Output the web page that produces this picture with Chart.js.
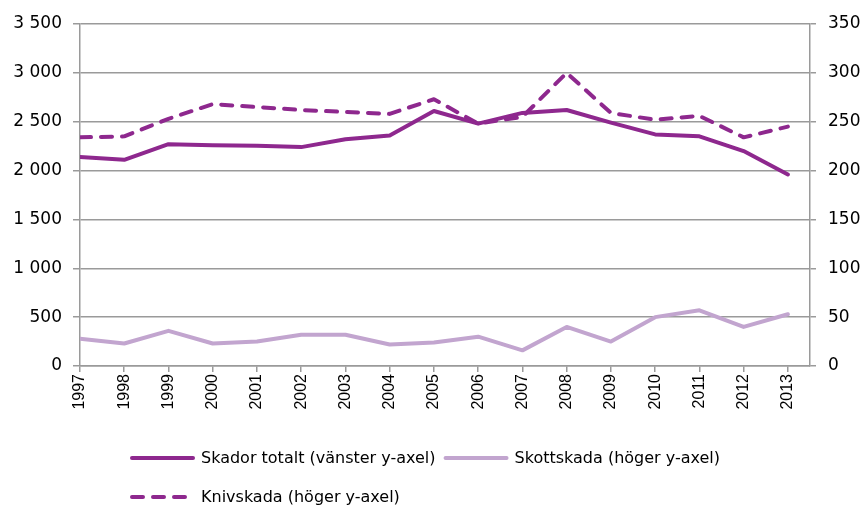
<!DOCTYPE html>
<html>
<head>
<meta charset="utf-8">
<script src="https://cdn.jsdelivr.net/npm/chart.js@4/dist/chart.umd.min.js"></script>
<style>
  html, body { margin: 0; padding: 0; background: #fff; }
  #wrap { width: 863px; height: 505px; position: relative; }
</style>
</head>
<body>
<div id="wrap"><canvas id="c" width="863" height="505"></canvas></div>
<script>
const years = [1997, 1998, 1999, 2000, 2001, 2002, 2003, 2004, 2005, 2006, 2007, 2008, 2009, 2010, 2011, 2012, 2013];
const skadorTotalt = [2140, 2110, 2270, 2260, 2255, 2240, 2320, 2360, 2610, 2480, 2590, 2620, 2490, 2370, 2350, 2200, 1960];
const skottskada = [28, 23, 36, 23, 25, 32, 32, 22, 24, 30, 16, 40, 25, 50, 57, 40, 53];
const knivskada = [234, 235, 253, 268, 265, 262, 260, 258, 273, 248, 255, 300, 259, 252, 256, 234, 245];
const leftTicks = [0, 500, 1000, 1500, 2000, 2500, 3000, 3500];
const rightTicks = [0, 50, 100, 150, 200, 250, 300, 350];
const seriesNames = ['Skador totalt (vänster y-axel)', 'Skottskada (höger y-axel)', 'Knivskada (höger y-axel)'];

const DARK = '#8E288E';
const LIGHT = '#C2A5CF';
const GRID = '#9A9A9A';

const toPts = arr => arr.map((v, i) => ({ x: years[i], y: v }));
const fmtSpace = v => String(v).replace(/\B(?=(\d{3})+(?!\d))/g, ' ');

const legendPlugin = {
  id: 'customLegend',
  afterDraw(chart) {
    const ctx = chart.ctx;
    const ds = chart.data.datasets;
    const rows = [[0, 1], [2]];
    const rowY = [458, 497];
    const startX = 130, lineLen = 65, gapLT = 6, gapTL = 8;
    ctx.save();
    ctx.font = '16px "DejaVu Sans"';
    ctx.textBaseline = 'middle';
    rows.forEach((row, r) => {
      let x = startX;
      const y = rowY[r];
      row.forEach(i => {
        const d = ds[i];
        ctx.beginPath();
        ctx.strokeStyle = d.borderColor;
        ctx.lineWidth = d.borderWidth;
        ctx.lineCap = 'round';
        ctx.setLineDash(d.borderDash || []);
        ctx.moveTo(x + 2, y);
        ctx.lineTo(x + lineLen - 2, y);
        ctx.stroke();
        ctx.setLineDash([]);
        x += lineLen + gapLT;
        ctx.fillStyle = '#000';
        ctx.fillText(d.label, x, y + 1);
        x += ctx.measureText(d.label).width + gapTL;
      });
    });
    ctx.restore();
  }
};

new Chart(document.getElementById('c'), {
  type: 'line',
  data: {
    datasets: [
      { label: seriesNames[0], data: toPts(skadorTotalt), yAxisID: 'y', borderColor: DARK, backgroundColor: DARK,
        borderWidth: 4, pointRadius: 0, tension: 0, borderJoinStyle: 'round', borderCapStyle: 'round' },
      { label: seriesNames[1], data: toPts(skottskada), yAxisID: 'y2', borderColor: LIGHT, backgroundColor: LIGHT,
        borderWidth: 4, pointRadius: 0, tension: 0, borderJoinStyle: 'round', borderCapStyle: 'round' },
      { label: seriesNames[2], data: toPts(knivskada), yAxisID: 'y2', borderColor: DARK, backgroundColor: DARK,
        borderWidth: 4, borderDash: [11, 10], pointRadius: 0, tension: 0, borderJoinStyle: 'round', borderCapStyle: 'round' }
    ]
  },
  options: {
    responsive: false,
    animation: false,
    events: [],
    layout: { padding: { top: 24, bottom: 0, left: 0, right: 0 } },
    plugins: { legend: { display: false }, tooltip: { enabled: false } },
    scales: {
      x: {
        type: 'linear',
        min: years[0],
        max: years[years.length - 1] + 0.5,
        afterBuildTicks: s => { s.ticks = years.map(v => ({ value: v })); },
        afterFit: s => { s.height = 139; },
        ticks: {
          autoSkip: false, minRotation: 90, maxRotation: 90, padding: 2,
          color: '#000', font: { family: 'Liberation Sans', size: 16 },
          callback: v => String(v)
        },
        grid: { drawOnChartArea: false, drawTicks: true, tickLength: 6, color: GRID, lineWidth: 1.5 },
        border: { color: GRID, width: 1.5 }
      },
      y: {
        position: 'left',
        min: 0, max: 3500,
        afterBuildTicks: s => { s.ticks = leftTicks.map(v => ({ value: v })); },
        afterFit: s => { s.width = 80; },
        ticks: { padding: 11, color: '#000', font: { family: 'DejaVu Sans', size: 17 }, callback: v => fmtSpace(v) },
        grid: { color: GRID, lineWidth: 1.5, tickLength: 7 },
        border: { color: GRID, width: 1.5 }
      },
      y2: {
        position: 'right',
        min: 0, max: 350,
        afterBuildTicks: s => { s.ticks = rightTicks.map(v => ({ value: v })); },
        afterFit: s => { s.width = 53; },
        ticks: { padding: 12, color: '#000', font: { family: 'DejaVu Sans', size: 17 }, callback: v => String(v) },
        grid: { drawOnChartArea: false, color: GRID, lineWidth: 1.5, tickLength: 6 },
        border: { color: GRID, width: 1.5 }
      }
    }
  },
  plugins: [legendPlugin]
});
</script>
</body>
</html>
